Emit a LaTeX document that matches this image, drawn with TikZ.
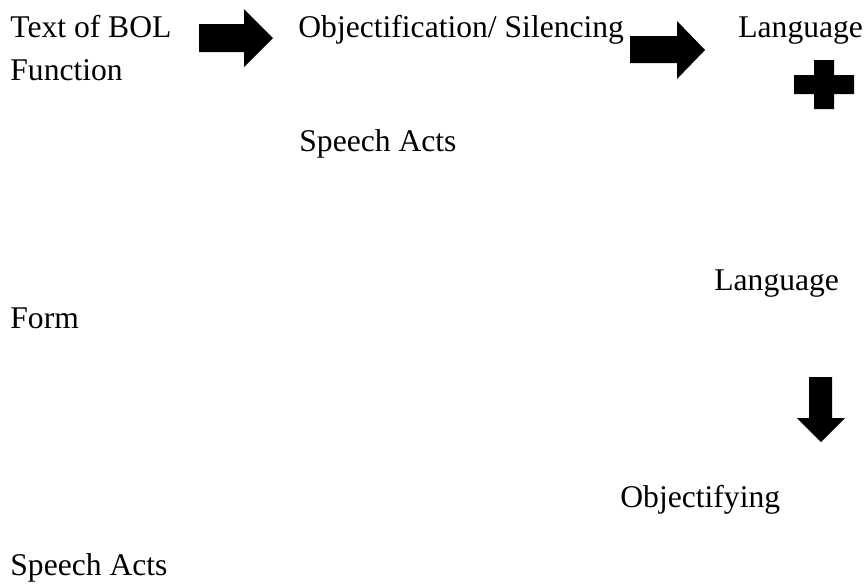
\documentclass[tikz,border=0pt]{standalone}
\usepackage{fontspec}
\setmainfont{Liberation Serif}
\begin{document}
\begin{tikzpicture}[x=0.5pt,y=-0.5pt,
  lbl/.style={anchor=base west, inner sep=0pt, font=\fontsize{15.8}{19}\selectfont},
  blk/.style={fill=black, draw=none}]
\useasboundingbox (0,0) rectangle (867,585);
\node[lbl] (t1) at (10,37) {Text of BOL};
\node[lbl] (t2) at (10,80) {Function};
\node[lbl] (obj) at (298,37) {Objectification/ Silencing};
\node[lbl] (lang1) at (738,37) {Language};
\node[lbl] (sa1) at (299,151) {Speech Acts};
\node[lbl] (lang2) at (714,290) {Language};
\node[lbl] (form) at (10,328) {Form};
\node[lbl] (objing) at (620,507) {Objectifying};
\node[lbl] (sa2) at (10,575) {Speech Acts};
% block arrows
\fill[blk] (199,24) -- (244,24) -- (244,9) -- (273,38) -- (244,67) -- (244,52) -- (199,52) -- cycle;
\fill[blk] (630,36) -- (677,36) -- (677,21) -- (705,50) -- (677,79) -- (677,63) -- (630,63) -- cycle;
\fill[blk] (814,60) -- (834,60) -- (834,75) -- (854,75) -- (854,94) -- (834,94) -- (834,109) -- (814,109) -- (814,94) -- (794,94) -- (794,75) -- (814,75) -- cycle;
\fill[blk] (809,377) -- (832,377) -- (832,418) -- (845,418) -- (821,442) -- (797,418) -- (809,418) -- cycle;
\end{tikzpicture}
\end{document}
